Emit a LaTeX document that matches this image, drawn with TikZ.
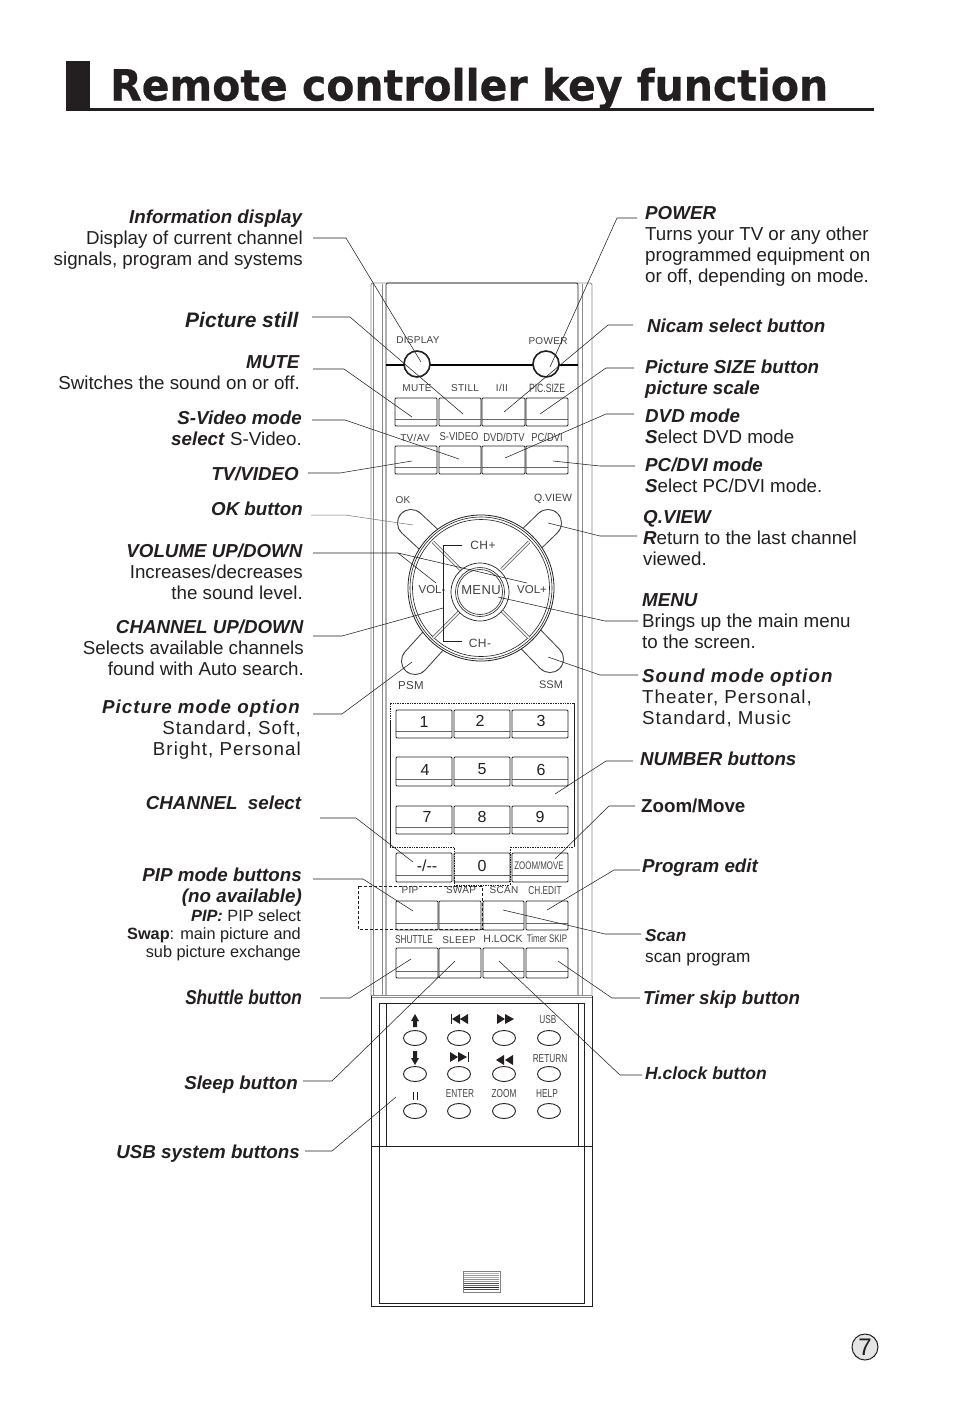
\documentclass[tikz,border=0pt]{standalone}
\usepackage{fontspec}
\usepackage{graphicx}
\usetikzlibrary{shapes.geometric}
\setmainfont{Liberation Sans}
\newfontfamily\titlef{DejaVu Sans}[BoldFont={DejaVu Sans Bold},BoldFeatures={FakeBold=0.5}]
\newfontfamily\spacedf[LetterSpace=5.5]{Liberation Sans}
\newfontfamily\keyf[LetterSpace=3]{Liberation Sans}
\newfontfamily\condf[FakeStretch=0.72]{Liberation Sans}
\newfontfamily\condbf[FakeStretch=0.82]{Liberation Sans}
\newfontfamily\shutf[FakeStretch=0.86]{Liberation Sans}
\definecolor{ink}{HTML}{231F20}
\definecolor{bodyg}{HTML}{8A8A8A}
\tikzset{
  lead/.style={draw=ink,line width=0.55pt},
  thinlead/.style={draw=black!55,line width=0.5pt},
  lblr/.style={anchor=base east,align=right,inner sep=0pt,text=ink,font=\fontsize{18.75}{21}\selectfont},
  lbll/.style={anchor=base west,align=left,inner sep=0pt,text=ink,font=\fontsize{18.75}{21}\selectfont},
  keylab/.style={inner sep=0pt,text=ink!85,font=\keyf\fontsize{10}{10}\selectfont},
  condlab/.style={inner sep=0pt,text=ink!85,font=\condf\fontsize{11.5}{11.5}\selectfont},
  condblab/.style={inner sep=0pt,text=ink!85,font=\condbf\fontsize{11.5}{11.5}\selectfont},
  numlab/.style={inner sep=0pt,text=ink,font=\fontsize{16}{16}\selectfont},
  keyb/.style={draw=ink,line width=0.8pt,rounded corners=1pt,inner sep=0pt,
    path picture={\draw[black!60,line width=0.6pt]
      ([yshift=6.5pt]path picture bounding box.south west)--([yshift=6.5pt]path picture bounding box.south east);}},
  oval/.style={ellipse,draw=ink,line width=0.9pt,minimum width=23pt,minimum height=15pt,inner sep=0pt},
  bodyline/.style={draw=ink,line width=0.7pt},
  greyline/.style={draw=bodyg,line width=0.8pt},
  glyph/.style={fill=ink,draw=none},
  dotframe/.style={draw=ink,line width=0.7pt,densely dotted},
  dashframe/.style={draw=ink,line width=0.7pt,densely dashed},
}
\newcommand{\kb}[5]{\node[keyb,minimum width={(#3-#2)*1pt},minimum height={(#5-#4)*1pt}] (#1) at ({(#2+#3)/2},{(#4+#5)/2}) {};}
\newcommand{\conn}[4]{\coordinate (#1a) at (#2);\coordinate (#1b) at (#3);\coordinate (#1c) at (#4);\draw[lead] (#1a)--(#1b)--(#1c);}
\newcommand{\bi}[1]{\textbf{\textit{#1}}}
\begin{document}
\begin{tikzpicture}[x=1pt,y=-1pt]
\useasboundingbox (0,0) rectangle (954,1401);
% title
\fill[ink] (66,61) rectangle (90,110);
\fill[ink] (66,108) rectangle (874,111);
\node[inner sep=0pt,anchor=base west,text=ink] (title) at (110,100.5) {\resizebox{718pt}{\height}{\titlef\bfseries\fontsize{43}{43}\selectfont Remote controller key function}};
% remote body
\draw[greyline,rounded corners=2pt] (371,996)--(371,283)--(592,283)--(592,996);
\draw[bodyline,rounded corners=2pt] (386,995)--(386,283)--(578,283)--(578,995);
\draw[greyline] (373,284)--(373,996);
\draw[greyline] (382,284)--(382,996);
\draw[greyline] (582,284)--(582,996);
\draw[greyline] (371,995)--(592,995);
\draw[greyline] (371,997)--(592,997);
\draw[bodyline] (371,996)--(371,1306)--(592,1306)--(592,996);
\draw[bodyline] (379,1146)--(379,1003)--(584,1003)--(584,1146);
\draw[bodyline] (386,1003)--(386,1146);
\draw[bodyline] (578,1003)--(578,1146);
\draw[bodyline] (371,1146)--(592,1146);
\draw[bodyline] (379,1146)--(379,1303)--(584,1303)--(584,1146);
% top bar and round keys
\draw[draw=black,line width=1.6pt] (386,365)--(578,365);
\node[circle,draw=ink,fill=white,line width=1.6pt,minimum size=26pt,inner sep=0pt] (kDisplay) at (417,364) {};
\node[circle,draw=ink,fill=white,line width=1.6pt,minimum size=26pt,inner sep=0pt] (kPower) at (546,364) {};
\node[keylab] (tDisplay) at (418,340) {DISPLAY};
\node[keylab] (tPower) at (548,341) {POWER};
% row 1, 2
\kb{kMute}{395}{437}{398}{426}\kb{kStill}{439}{481}{398}{426}\kb{kDual}{482}{525}{398}{426}\kb{kPic}{526}{568}{398}{426}
\kb{kTv}{395}{437}{446}{474}\kb{kSv}{439}{481}{446}{474}\kb{kDvd}{482}{525}{446}{474}\kb{kPc}{526}{568}{446}{474}
\node[keylab] (tMute) at (417,388) {MUTE};
\node[keylab] (tStill) at (465,388) {STILL};
\node[keylab] (tDual) at (502,388) {I/II};
\node[keylab,font=\condf\fontsize{12}{12}\selectfont] (tPic) at (547,388) {PIC.SIZE};
\node[keylab] (tTv) at (415,438) {TV/AV};
\node[condblab] (tSv) at (459,437) {S-VIDEO};
\node[condblab] (tDvd) at (504,437) {DVD/DTV};
\node[condblab] (tPc) at (547,437) {PC/DVI};
% petals
\foreach \px/\py in {411/523,548/523,415/661,550/659}{
  \draw[draw=black!75,line width=28pt,line cap=round] (\px,\py)--(481,588);
  \draw[draw=white,line width=26pt,line cap=round] (\px,\py)--(481,588);
}
% dial
\node[circle,draw=ink,fill=white,line width=0.8pt,minimum size=146pt,inner sep=0pt] (dial) at (481,588) {};
\node[circle,draw=ink,line width=0.6pt,minimum size=142pt,inner sep=0pt] (dialb) at (481,588) {};
\node[circle,draw=ink,line width=0.6pt,minimum size=137pt,inner sep=0pt] (dialc) at (481,588) {};
\foreach \a in {45,135,225,315}{
  \draw[draw=black!70,line width=3pt] (481,590)++(\a:29)--++(\a:39);
  \draw[draw=white,line width=1.6pt] (481,590)++(\a:29)--++(\a:39);
}
\node[circle,draw=ink,fill=white,line width=0.7pt,minimum size=58pt,inner sep=0pt] (ringa) at (480,592) {};
\node[circle,draw=ink,line width=0.6pt,minimum size=49pt,inner sep=0pt] (ringb) at (480,592) {};
\node[circle,draw=ink,line width=0.6pt,minimum size=45pt,inner sep=0pt] (ringc) at (480,592) {};
\node[keylab] (tOk) at (403,500) {OK};
\node[keylab,font=\fontsize{10.5}{10.5}\selectfont] (tQ) at (553,499) {Q.VIEW};
\node[keylab,font=\keyf\fontsize{12}{12}\selectfont] (tChp) at (483,545) {CH+};
\node[keylab,font=\fontsize{11.5}{11.5}\selectfont] (tVolm) at (432,590) {VOL-};
\node[keylab,font=\keyf\fontsize{13}{13}\selectfont] (tMenu) at (481,590) {MENU};
\node[keylab,font=\fontsize{11.5}{11.5}\selectfont] (tVolp) at (532,590) {VOL+};
\node[keylab,font=\keyf\fontsize{12}{12}\selectfont] (tChm) at (480,643) {CH-};
\node[keylab,font=\keyf\fontsize{11.5}{11.5}\selectfont] (tPsm) at (411,686) {PSM};
\node[keylab,font=\fontsize{11}{11}\selectfont] (tSsm) at (551,685) {SSM};
\draw[draw=ink,line width=0.8pt] (462,545)--(443,545)--(443,641)--(462,641);
% number keys
\kb{k1}{396}{452}{710}{738}\kb{k2}{454}{510}{710}{738}\kb{k3}{512}{568}{710}{738}
\kb{k4}{396}{452}{757}{786}\kb{k5}{454}{510}{757}{786}\kb{k6}{512}{568}{757}{786}
\kb{k7}{396}{452}{806}{834}\kb{k8}{454}{510}{806}{834}\kb{k9}{512}{568}{806}{834}
\kb{kDash}{396}{452}{853}{882}\kb{k0}{454}{510}{853}{882}\kb{kZm}{512}{568}{853}{882}
\node[numlab] (n1) at (424,722) {1};\node[numlab] (n2) at (480,721) {2};\node[numlab] (n3) at (541,721) {3};
\node[numlab] (n4) at (425,770) {4};\node[numlab] (n5) at (482,769) {5};\node[numlab] (n6) at (541,770) {6};
\node[numlab] (n7) at (427,817) {7};\node[numlab] (n8) at (482,817) {8};\node[numlab] (n9) at (540,817) {9};
\node[numlab] (nd) at (427,866) {-/-{}-};\node[numlab] (n0) at (482,866) {0};
\node[condlab,font=\condf\fontsize{11}{11}\selectfont] (tZm) at (539,866) {ZOOM/MOVE};
\draw[dotframe] (390,722)--(390,703)--(574,703);
\draw[draw=ink,line width=0.7pt] (390,722)--(390,847);
\draw[draw=ink,line width=0.7pt] (574,703)--(574,847);
\draw[dotframe] (390,847)--(454,847)--(454,885)--(510,885)--(510,847)--(574,847);
% lower keys
\kb{kPip}{396}{438}{901}{930}\kb{kSwap}{439}{481}{901}{930}\kb{kScan}{483}{524}{901}{930}\kb{kCh}{526}{568}{901}{930}
\kb{kSh}{396}{438}{948}{978}\kb{kSl}{439}{481}{948}{978}\kb{kHl}{483}{524}{948}{978}\kb{kTm}{526}{568}{948}{978}
\draw[dashframe] (358,886) rectangle (482,929);
\node[keylab] (tPip) at (410,890) {PIP};
\node[keylab] (tSwap) at (461,890) {SWAP};
\node[keylab] (tScan) at (504,890) {SCAN};
\node[condlab] (tCh) at (545,891) {CH.EDIT};
\node[condlab] (tSh) at (414,940) {SHUTTLE};
\node[keylab] (tSl) at (459,940) {SLEEP};
\node[keylab,font=\fontsize{10.5}{10.5}\selectfont] (tHl) at (503,939) {H.LOCK};
\node[condlab,font=\condf\fontsize{11}{11}\selectfont] (tTm) at (547,939) {Timer SKIP};
% USB panel
\foreach \c/\x in {a/415,b/459,c/504,d/549}{
  \foreach \r/\y in {1/1038,2/1074,3/1111}{
    \node[oval] (u\c\r) at (\x,\y) {};
  }
}
\fill[glyph] (415,1014)--(419,1021)--(417,1021)--(417,1027)--(413,1027)--(413,1021)--(411,1021)--cycle;
\fill[glyph] (415,1065)--(419,1058)--(417,1058)--(417,1051)--(413,1051)--(413,1058)--(411,1058)--cycle;
\fill[glyph] (452,1019)--(460,1014)--(460,1024)--cycle (460,1019)--(468,1014)--(468,1024)--cycle;
\draw[draw=ink,line width=0.9pt] (451,1014)--(451,1024);
\fill[glyph] (497,1014)--(505,1019)--(497,1024)--cycle (505,1014)--(514,1019)--(505,1024)--cycle;
\fill[glyph] (450,1052)--(458,1057)--(450,1062)--cycle (458,1052)--(467,1057)--(458,1062)--cycle;
\draw[draw=ink,line width=0.9pt] (468,1052)--(468,1062);
\fill[glyph] (496,1060)--(504,1055)--(504,1065)--cycle (505,1060)--(513,1055)--(513,1065)--cycle;
\draw[draw=ink,line width=0.8pt] (413,1092)--(413,1100);
\draw[draw=ink,line width=0.8pt] (417,1092)--(417,1100);
\node[condlab] (tUsb) at (548,1020) {USB};
\node[condlab] (tRet) at (550,1059) {RETURN};
\node[condlab] (tEnt) at (460,1094) {ENTER};
\node[condlab] (tZoom) at (504,1094) {ZOOM};
\node[condlab] (tHelp) at (547,1094) {HELP};
% grille
\draw[draw=black!50,line width=0.6pt] (463,1271) rectangle (500,1292);
\foreach \y/\c in {1273/30,1275/40,1277/35,1279/45,1281/40,1283/70,1285/60,1287/85,1289/70}{
  \draw[draw=black!\c,line width=0.9pt] (464,\y)--(499,\y);
}
% page number
\node[circle,draw=ink,fill=black!10,line width=1pt,minimum size=26pt,inner sep=0pt,font=\fontsize{24}{24}\selectfont,text=ink] (page) at (865,1347) {7};
% leaders left
\conn{l1}{313,238}{346,238}{421,362}
\conn{l2}{312,317}{350,317}{463,414}
\conn{l3}{313,369}{344,369}{412,417}
\conn{l4}{312,420}{345,420}{459,459}
\conn{l5}{308,473}{340,473}{412,461}
\coordinate (l6a) at (311,515);\coordinate (l6b) at (345,515);\coordinate (l6c) at (413,525);
\draw[thinlead] (l6a)--(l6b)--(l6c);
\coordinate (l7a) at (313,553);\coordinate (l7b) at (398,553);\coordinate (l7c) at (436,583);\coordinate (l7d) at (527,583);
\draw[lead] (l7a)--(l7b)--(l7c);\draw[lead] (l7b)--(l7d);
\conn{l8}{313,636}{342,636}{443,608}
\conn{l9}{313,714}{342,714}{412,662}
\conn{l10}{320,818}{356,818}{413,862}
\conn{l11}{313,879}{363,879}{413,911}
\conn{l12}{320,998}{350,998}{411,959}
\conn{l13}{303,1081}{332,1081}{455,961}
\conn{l14}{305,1151}{332,1151}{396,1097}
% leaders right
\conn{r1}{637,218}{617,218}{550,367}
\conn{r2}{633,325}{608,325}{504,412}
\conn{r3}{634,368}{606,368}{540,414}
\conn{r4}{634,414}{606,414}{505,458}
\conn{r5}{635,466}{600,466}{553,461}
\conn{r6}{637,536}{600,536}{548,523}
\conn{r7}{638,621}{605,621}{498,597}
\conn{r8}{638,675}{600,675}{548,657}
\conn{r9}{633,761}{606,761}{555,794}
\conn{r10}{635,806}{609,806}{555,859}
\conn{r11}{640,870}{614,870}{547,910}
\conn{r12}{641,934}{605,934}{503,910}
\conn{r13}{640,998}{612,998}{558,961}
\conn{r14}{642,1075}{620,1075}{499,961}
% left labels
\node[lblr] (Linfo) at (303,265) {\bi{Information display}\\Display of current channel\\signals, program and systems};
\node[lblr,font=\fontsize{21}{21}\selectfont] (Lstill) at (299,327) {\bi{Picture still}};
\node[lblr] (Lmute) at (300,389) {\bi{MUTE}\\Switches the sound on or off.};
\node[lblr] (Lsv) at (302,445) {\bi{S-Video mode}\\\bi{select} S-Video.};
\node[lblr] (Ltv) at (299,480) {\bi{TV/VIDEO}};
\node[lblr] (Lok) at (303,515) {\bi{OK button}};
\node[lblr] (Lvol) at (303,599) {\bi{VOLUME UP/DOWN}\\Increases/decreases\\the sound level.};
\node[lblr] (Lch) at (304,675) {\bi{CHANNEL UP/DOWN}\\Selects available channels\\found with Auto search.};
\node[lblr,font=\spacedf\fontsize{18.75}{21}\selectfont] (Lpm) at (301,755) {\bi{Picture mode option}\\Standard, Soft,\\Bright, Personal};
\node[lblr] (Lcs) at (302,809) {\bi{CHANNEL\ \ select}};
\node[lblr] (Lpip) at (302,902) {\bi{PIP mode buttons}\\\bi{(no available)}};
\node[lblr,font=\fontsize{16.3}{18}\selectfont] (Lpipb) at (301,957) {\bi{PIP:} PIP select\\\textbf{Swap}: main picture and\\sub picture exchange};
\node[lblr,font=\shutf\fontsize{20}{21}\selectfont] (Lsh) at (302,1004) {\bi{Shuttle button}};
\node[lblr] (Lsl) at (298,1089) {\bi{Sleep button}};
\node[lblr] (Lusb) at (300,1158) {\bi{USB system buttons}};
% right labels
\node[lbll] (Rpow) at (645,282) {\bi{POWER}\\Turns your TV or any other\\programmed equipment on\\or off, depending on mode.};
\node[lbll] (Rnic) at (647,332) {\bi{Nicam select button}};
\node[lbll] (Rpic) at (645,394) {\bi{Picture SIZE button}\\\bi{picture scale}};
\node[lbll] (Rdvd) at (645,443) {\bi{DVD mode}\\\bi{S}elect DVD mode};
\node[lbll] (Rpc) at (645,492) {\bi{PC/DVI mode}\\\bi{S}elect PC/DVI mode.};
\node[lbll] (Rq) at (643,565) {\bi{Q.VIEW}\\\bi{R}eturn to the last channel\\viewed.};
\node[lbll] (Rmenu) at (642,648) {\bi{MENU}\\Brings up the main menu\\to the screen.};
\node[lbll,font=\spacedf\fontsize{18.75}{21}\selectfont] (Rsnd) at (642,724) {\bi{Sound mode option}\\Theater, Personal,\\Standard, Music};
\node[lbll] (Rnum) at (640,765) {\bi{NUMBER buttons}};
\node[lbll] (Rzm) at (641,812) {\textbf{Zoom/Move}};
\node[lbll] (Rpe) at (642,872) {\bi{Program edit}};
\node[lbll,font=\fontsize{17.2}{21}\selectfont] (Rscan) at (645,962) {\bi{Scan}\\scan program};
\node[lbll] (Rts) at (643,1004) {\bi{Timer skip button}};
\node[lbll,font=\fontsize{17.5}{21}\selectfont] (Rhl) at (645,1079) {\bi{H.clock button}};
\end{tikzpicture}
\end{document}
